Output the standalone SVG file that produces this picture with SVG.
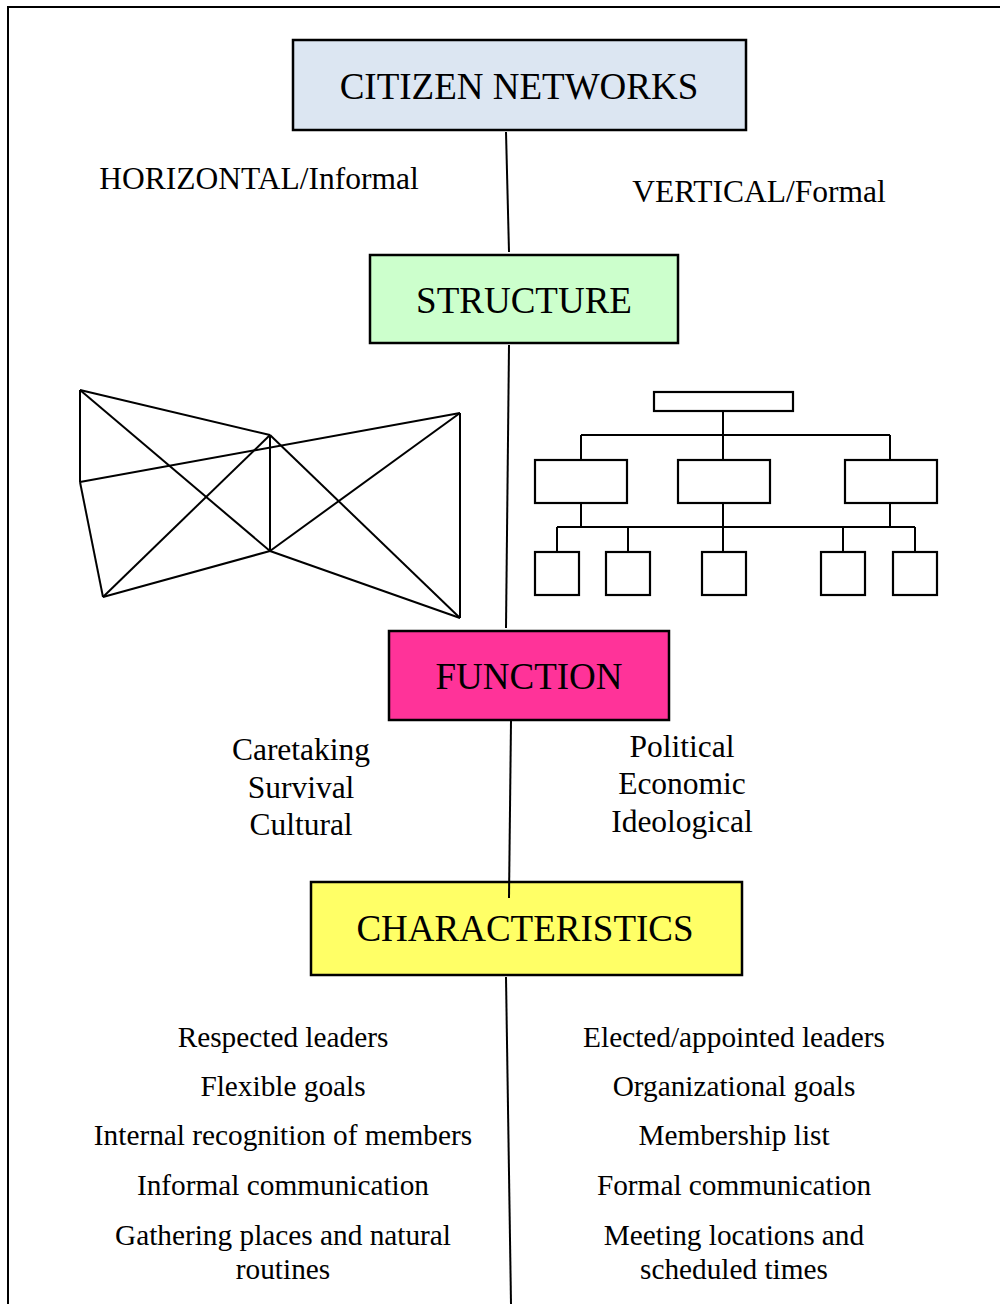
<svg xmlns="http://www.w3.org/2000/svg" width="1000" height="1304" viewBox="0 0 1000 1304">
<style>
text { font-family: "Liberation Serif", "Times New Roman", serif; fill: #000; text-anchor: middle; }
.title { font-size: 37px; }
.lbl { font-size: 31.5px; }
.item { font-size: 29.3px; }
.box { stroke: #000; stroke-width: 2.5; }
.ln { stroke: #000; stroke-width: 2; fill: none; }
.pic { stroke: #000; stroke-width: 2.2; fill: #fff; }
</style>
<rect x="0" y="0" width="1000" height="1304" fill="#fff"/>
<rect x="8" y="7" width="1010" height="1320" fill="none" stroke="#000" stroke-width="2"/>

<g id="citizen-networks">
<rect class="box" x="293" y="40" width="453" height="90" fill="#dce6f2"/>
<text class="title" x="519" y="99">CITIZEN NETWORKS</text>
</g>

<g id="horizontal-label"><text class="lbl" x="259" y="189">HORIZONTAL/Informal</text></g>
<g id="vertical-label"><text class="lbl" x="759" y="202">VERTICAL/Formal</text></g>

<g id="structure">
<rect class="box" x="370" y="255" width="308" height="88" fill="#ccffcc"/>
<text class="title" x="524" y="313">STRUCTURE</text>
</g>

<g id="network-graph" class="ln" stroke-width="2.2">
<line x1="80" y1="390" x2="270" y2="435"/>
<line x1="80" y1="390" x2="80" y2="482"/>
<line x1="80" y1="390" x2="270" y2="551"/>
<line x1="80" y1="482" x2="460" y2="413"/>
<line x1="80" y1="482" x2="103" y2="597"/>
<line x1="103" y1="597" x2="270" y2="435"/>
<line x1="103" y1="597" x2="270" y2="551"/>
<line x1="270" y1="435" x2="270" y2="551"/>
<line x1="270" y1="435" x2="460" y2="618"/>
<line x1="270" y1="551" x2="460" y2="413"/>
<line x1="270" y1="551" x2="460" y2="618"/>
<line x1="460" y1="413" x2="460" y2="618"/>
</g>

<g id="org-chart">
<g class="ln" stroke-width="2.2">
<line x1="723" y1="411" x2="723" y2="460"/>
<line x1="581" y1="435" x2="890" y2="435"/>
<line x1="581" y1="435" x2="581" y2="460"/>
<line x1="890" y1="435" x2="890" y2="460"/>
<line x1="581" y1="503" x2="581" y2="527"/>
<line x1="723" y1="503" x2="723" y2="552"/>
<line x1="890" y1="503" x2="890" y2="527"/>
<line x1="557" y1="527" x2="915" y2="527"/>
<line x1="557" y1="527" x2="557" y2="552"/>
<line x1="628" y1="527" x2="628" y2="552"/>
<line x1="843" y1="527" x2="843" y2="552"/>
<line x1="915" y1="527" x2="915" y2="552"/>
</g>
<rect class="pic" x="654" y="392" width="139" height="19"/>
<rect class="pic" x="535" y="460" width="92" height="43"/>
<rect class="pic" x="678" y="460" width="92" height="43"/>
<rect class="pic" x="845" y="460" width="92" height="43"/>
<rect class="pic" x="535" y="552" width="44" height="43"/>
<rect class="pic" x="606" y="552" width="44" height="43"/>
<rect class="pic" x="702" y="552" width="44" height="43"/>
<rect class="pic" x="821" y="552" width="44" height="43"/>
<rect class="pic" x="893" y="552" width="44" height="43"/>
</g>

<g id="function">
<rect class="box" x="389" y="631" width="280" height="89" fill="#ff3399"/>
<text class="title" x="529" y="689">FUNCTION</text>
</g>

<g id="function-horizontal">
<text class="lbl" x="301" y="760">Caretaking</text>
<text class="lbl" x="301" y="798">Survival</text>
<text class="lbl" x="301" y="835">Cultural</text>
</g>
<g id="function-vertical">
<text class="lbl" x="682" y="757">Political</text>
<text class="lbl" x="682" y="794">Economic</text>
<text class="lbl" x="682" y="832">Ideological</text>
</g>

<g id="characteristics">
<rect class="box" x="311" y="882" width="431" height="93" fill="#ffff66" stroke="#2e4a8a"/>
<text class="title" x="525" y="941">CHARACTERISTICS</text>
</g>

<g id="characteristics-horizontal">
<text class="item" x="283" y="1047">Respected leaders</text>
<text class="item" x="283" y="1096">Flexible goals</text>
<text class="item" x="283" y="1145">Internal recognition of members</text>
<text class="item" x="283" y="1195">Informal communication</text>
<text class="item" x="283" y="1245">Gathering places and natural</text>
<text class="item" x="283" y="1279">routines</text>
</g>
<g id="characteristics-vertical">
<text class="item" x="734" y="1047">Elected/appointed leaders</text>
<text class="item" x="734" y="1096">Organizational goals</text>
<text class="item" x="734" y="1145">Membership list</text>
<text class="item" x="734" y="1195">Formal communication</text>
<text class="item" x="734" y="1245">Meeting locations and</text>
<text class="item" x="734" y="1279">scheduled times</text>
</g>

<g id="connectors">
<line class="ln" x1="506" y1="132" x2="509" y2="252"/>
<line class="ln" x1="509" y1="345" x2="506" y2="628"/>
<line class="ln" x1="511" y1="721" x2="509" y2="898"/>
<line class="ln" x1="506" y1="977" x2="511" y2="1304"/>
</g>
</svg>
